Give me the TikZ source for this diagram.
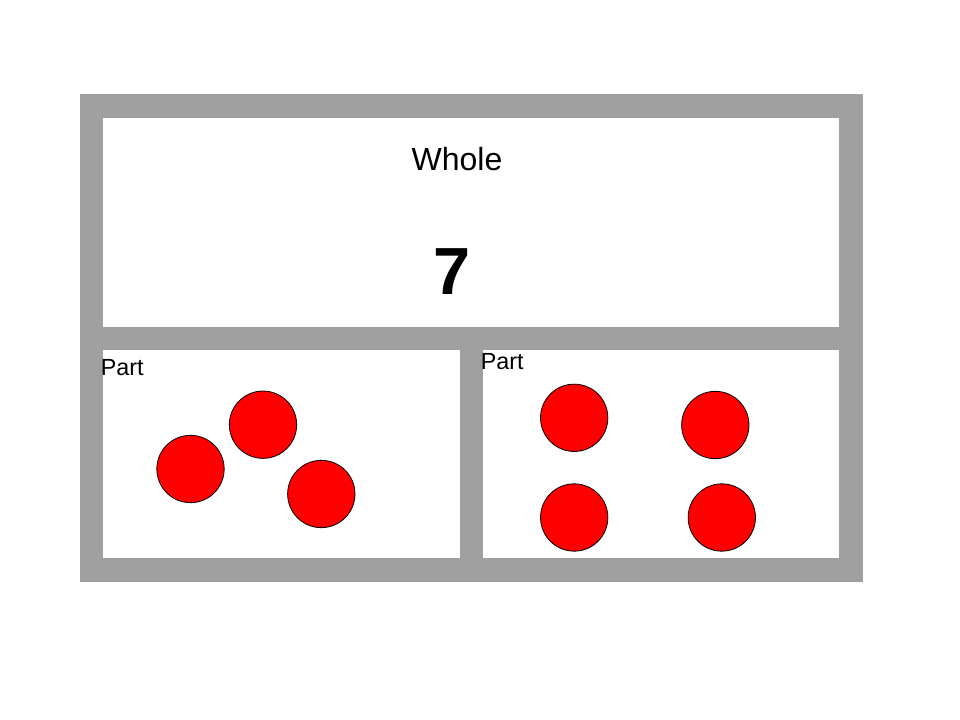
\documentclass[tikz,border=0pt]{standalone}
\usepackage{fontspec}
\setmainfont{Liberation Sans}
\definecolor{framegray}{RGB}{160,160,160}
\definecolor{dotred}{RGB}{255,0,0}
\tikzset{
  dot/.style={circle, fill=dotred, draw=black, line width=0.6pt, minimum size=50.5pt, inner sep=0pt},
  partlabel/.style={anchor=base west, inner sep=0pt, font=\fontsize{17.5}{20}\selectfont},
  panel/.style={fill=white, draw=none}
}
\begin{document}
\begin{tikzpicture}[x=0.75pt, y=-0.75pt]
\useasboundingbox (0,0) rectangle (960,720);
\fill[white] (0,0) rectangle (960,720);
% frame
\fill[framegray] (80,94) rectangle (863,582);
\fill[panel] (103,118) rectangle (839,327);
\fill[panel] (103,350) rectangle (460,558);
\fill[panel] (483,350) rectangle (839,558);
% texts
\node[anchor=base, inner sep=0pt, font=\fontsize{24}{28}\selectfont] (whole) at (457,170.7) {Whole};
\node[anchor=center, inner sep=0pt, font=\fontsize{50}{56}\selectfont\bfseries] (seven) at (452.5,271.5) {7};
\node[partlabel] (partL) at (100.5,375) {Part};
\node[partlabel] (partR) at (480.5,369.3) {Part};
% left dots
\node[dot] (l1) at (190.5,469) {};
\node[dot] (l2) at (263,424.7) {};
\node[dot] (l3) at (321.3,494) {};
% right dots
\node[dot] (r1) at (574.2,417.8) {};
\node[dot] (r2) at (715.3,425) {};
\node[dot] (r3) at (574.2,517.5) {};
\node[dot] (r4) at (721.8,517.5) {};
\end{tikzpicture}
\end{document}
